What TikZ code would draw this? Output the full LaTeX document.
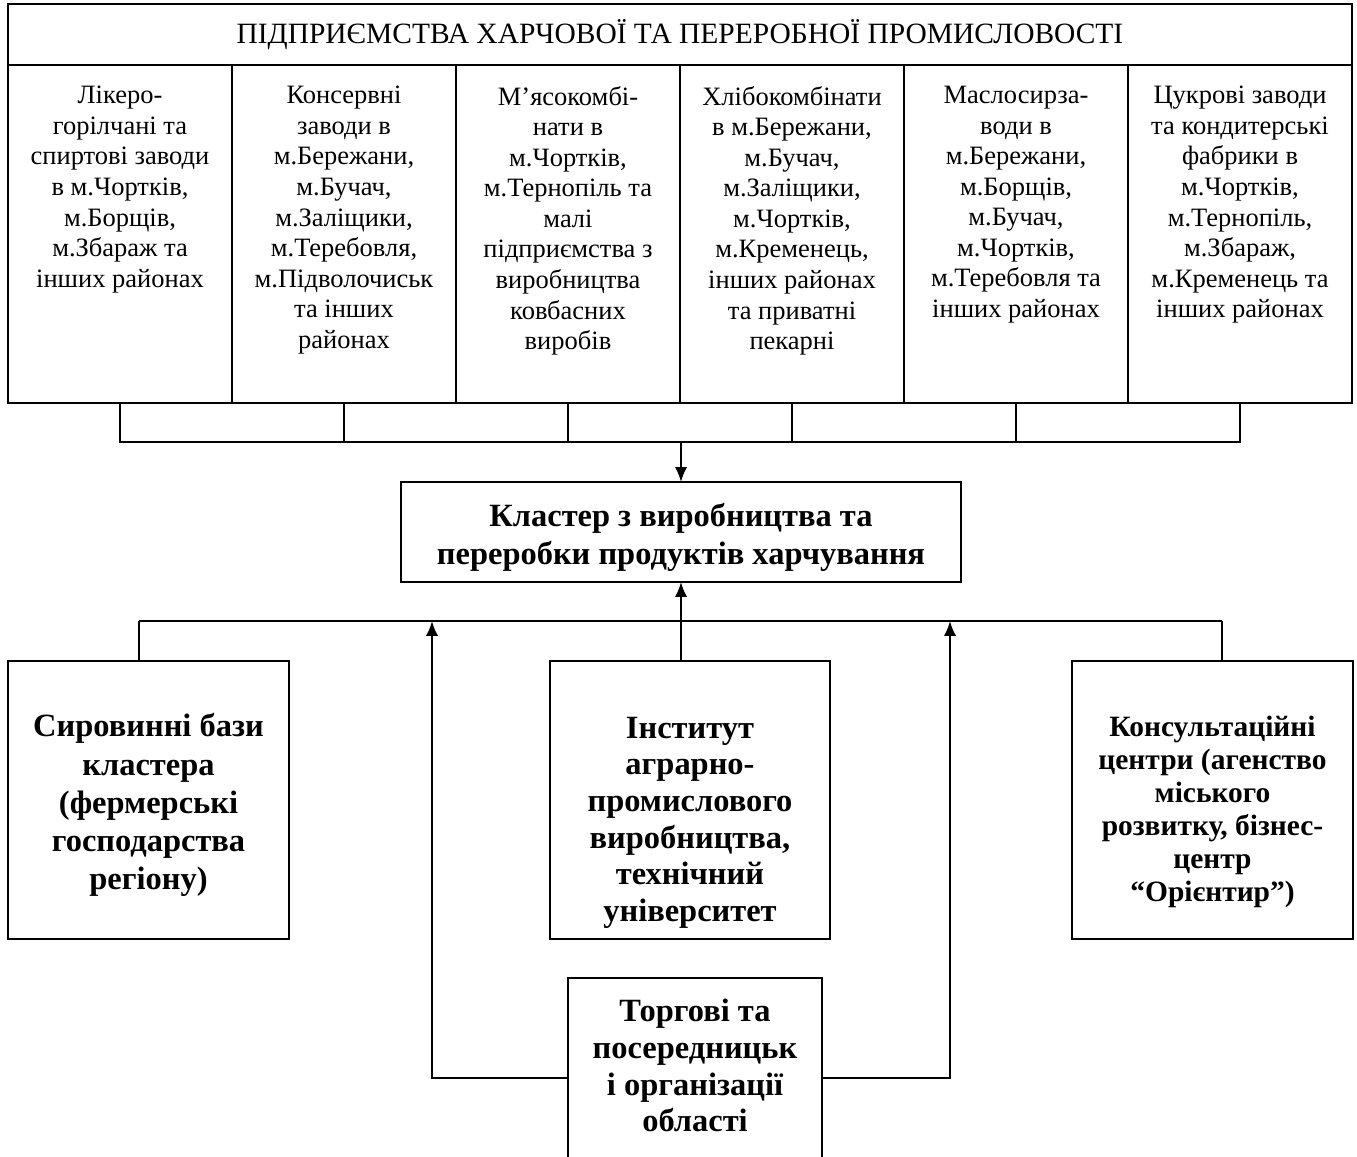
\documentclass[tikz,border=0pt]{standalone}
\usepackage{fontspec}
\setmainfont{Liberation Serif}
\usetikzlibrary{arrows.meta,positioning}

\newcommand{\pxu}{0.57pt}

\tikzset{
  box/.style={draw, line width=1pt, inner sep=0pt, outer sep=0pt},
  colbox/.style={box, minimum width=224*\pxu, minimum height=338*\pxu},
  coltext/.style={align=center, inner sep=0pt, font=\fontsize{15.1}{17.4}\selectfont},
  boldbox/.style={box, align=center, font=\fontsize{18.5}{21.8}\selectfont\bfseries},
  boldtext/.style={align=center, inner sep=0pt, font=\fontsize{18.5}{21.8}\selectfont\bfseries},
  link/.style={line width=0.8pt},
  feed/.style={line width=1.1pt, ->},
}

\begin{document}
\begin{tikzpicture}[>={Latex[length=8.5pt,width=7pt]}, x=\pxu, y=-\pxu]
	\useasboundingbox (0,0) rectangle (1357,1157);

	% header of the enterprises block
	\node[box, minimum width=1344*\pxu, minimum height=61*\pxu] (head) at (680,34.5)
		{\fontsize{16.8}{19}\selectfont ПІДПРИЄМСТВА ХАРЧОВОЇ ТА ПЕРЕРОБНОЇ ПРОМИСЛОВОСТІ};

	% the six columns under the header
	\node[colbox, anchor=north west] (c1) at (8,65) {};
	\node[colbox, right=0pt of c1] (c2) {};
	\node[colbox, right=0pt of c2] (c3) {};
	\node[colbox, right=0pt of c3] (c4) {};
	\node[colbox, right=0pt of c4] (c5) {};
	\node[colbox, right=0pt of c5] (c6) {};

	\node[coltext, below=12pt of c1.north] (t1) {Лікеро-\\горілчані та\\спиртові заводи\\в м.Чортків,\\м.Борщів,\\м.Збараж та\\інших районах};
	\node[coltext, below=12pt of c2.north] (t2) {Консервні\\заводи в\\м.Бережани,\\м.Бучач,\\м.Заліщики,\\м.Теребовля,\\м.Підволочиськ\\та інших\\районах};
	\node[coltext, below=12pt of c3.north] (t3) {М’ясокомбі-\\нати в\\м.Чортків,\\м.Тернопіль та\\малі\\підприємства з\\виробництва\\ковбасних\\виробів};
	\node[coltext, below=12pt of c4.north] (t4) {Хлібокомбінати\\в м.Бережани,\\м.Бучач,\\м.Заліщики,\\м.Чортків,\\м.Кременець,\\інших районах\\та приватні\\пекарні};
	\node[coltext, below=12pt of c5.north] (t5) {Маслосирза-\\води в\\м.Бережани,\\м.Борщів,\\м.Бучач,\\м.Чортків,\\м.Теребовля та\\інших районах};
	\node[coltext, below=12pt of c6.north] (t6) {Цукрові заводи\\та кондитерські\\фабрики в\\м.Чортків,\\м.Тернопіль,\\м.Збараж,\\м.Кременець та\\інших районах};

	% cluster in the middle
	\node[box, minimum width=560*\pxu, minimum height=100*\pxu] (clu) at (681,532) {};
	\node[boldtext, yshift=-3pt] (clutxt) at (clu.center)
		{Кластер з виробництва та\\переробки продуктів харчування};

	% join the columns and lead them down to the cluster
	\coordinate (j) at (681,442);
	\draw[link] (c1.south) -- (c1.south |- j) -- (c6.south |- j) -- (c6.south);
	\draw[link] (c2.south) -- (c2.south |- j);
	\draw[link] (c3.south) -- (c3.south |- j);
	\draw[link] (c4.south) -- (c4.south |- j);
	\draw[link] (c5.south) -- (c5.south |- j);
	\draw[feed] (j) -- (clu.north);

	% lower row of partners
	\node[box, minimum width=281*\pxu, minimum height=278*\pxu] (src) at (148.5,800) {};
	\node[boldtext, yshift=-3pt] (srctxt) at (src.center)
		{Сировинні бази\\кластера\\(фермерські\\господарства\\регіону)};
	\node[box, minimum width=280*\pxu, minimum height=278*\pxu] (inst) at (690,800) {};
	\node[boldtext, yshift=-13pt, font=\fontsize{18.5}{20.9}\selectfont\bfseries] (insttxt) at (inst.center)
		{Інститут\\аграрно-\\промислового\\виробництва,\\технічний\\університет};
	\node[box, minimum width=281*\pxu, minimum height=278*\pxu] (cons) at (1212.5,800) {};
	\node[boldtext, yshift=-7pt, font=\fontsize{16.8}{18.8}\selectfont\bfseries] (constxt) at (cons.center)
		{Консультаційні\\центри (агенство\\міського\\розвитку, бізнес-\\центр\\“Орієнтир”)};
	\node[box, minimum width=254*\pxu, minimum height=200*\pxu] (trade) at (695,1078) {};
	\node[boldtext, yshift=7pt, font=\fontsize{18.5}{20.9}\selectfont\bfseries] (tradetxt) at (trade.center)
		{Торгові та\\посередницьк\\і організації\\області};

	% bus under the cluster
	\coordinate (hub) at (681,621);
	\coordinate (hl) at (139,621);
	\coordinate (hr) at (1222,621);
	\draw[link] (hl) -- (hr);
	\draw[link] (hl) -- (hl |- src.north);
	\draw[link] (hr) -- (hr |- cons.north);
	\draw[link] (hub) -- (hub |- inst.north);
	\draw[feed] (hub) -- (clu.south);

	% trade organisations feed the bus from both sides
	\coordinate (al) at (432,621);
	\coordinate (ar) at (950,621);
	\draw[feed] (trade.west) -| (al);
	\draw[feed] (trade.east) -| (ar);
\end{tikzpicture}
\end{document}
